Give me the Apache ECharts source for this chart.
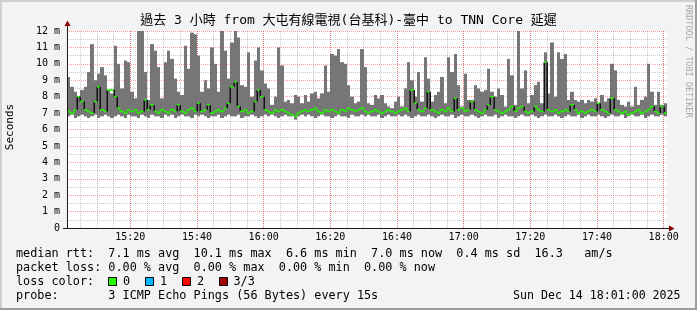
<!DOCTYPE html>
<html><head><meta charset="utf-8">
<script src="https://cdn.jsdelivr.net/npm/echarts@6/dist/echarts.min.js"></script>
<style>html,body{margin:0;padding:0;background:#f3f3f3}#c{width:697px;height:310px}</style>
</head><body><div id="c"></div>
<script>
// ---- data ----
const startHour = 15, startMinute = 1;   // window 15:01 .. 18:01
const stepCount = 180;                   // one smoke column per minute

// highest ping of each step (ms)
const maxRtt = [
  9.2, 8.6, 8.3, 8.0, 8.4, 8.6, 9.5, 11.2, 9.0, 9.4,
  9.8, 9.3, 8.4, 8.2, 11.1, 10.0, 8.5, 10.2, 10.1, 8.3,
  7.9, 12.0, 12.0, 9.5, 7.8, 11.2, 10.8, 9.8, 7.9, 10.1,
  10.8, 10.3, 9.1, 8.3, 8.1, 11.1, 9.7, 11.9, 11.8, 10.5,
  8.3, 9.0, 8.5, 11.0, 10.0, 8.3, 12.0, 10.8, 9.1, 11.3,
  12.0, 11.6, 8.7, 8.6, 10.7, 8.0, 10.2, 11.0, 9.6, 8.8,
  8.5, 7.5, 8.0, 11.0, 9.9, 7.7, 7.8, 7.6, 8.1, 8.0,
  7.6, 8.1, 7.7, 8.2, 8.3, 7.9, 8.2, 9.9, 8.3, 10.6,
  10.5, 10.9, 10.1, 10.0, 8.7, 8.0, 7.6, 7.7, 10.9, 9.8,
  7.6, 7.5, 8.1, 7.9, 8.1, 7.6, 7.4, 7.3, 7.7, 8.0,
  7.4, 8.5, 10.1, 9.0, 8.0, 9.5, 7.7, 10.4, 9.1, 7.7,
  8.1, 8.3, 9.2, 7.6, 10.4, 9.5, 10.6, 8.7, 7.4, 9.4,
  7.8, 7.8, 8.7, 8.5, 8.3, 8.4, 9.7, 8.3, 8.0, 8.5,
  8.1, 7.4, 10.3, 9.3, 7.5, 12.0, 8.5, 9.6, 7.6, 8.1,
  8.7, 8.9, 7.6, 10.7, 8.2, 11.3, 8.0, 10.7, 10.3, 10.6,
  7.8, 8.3, 7.8, 7.7, 7.8, 7.6, 7.8, 7.7, 7.9, 7.6,
  8.1, 7.7, 7.9, 10.0, 9.6, 7.8, 7.5, 7.4, 7.7, 7.4,
  8.6, 7.5, 7.8, 8.0, 10.0, 8.3, 7.5, 8.3, 7.5, 7.6
];
// lowest ping of each step (ms)
const minRtt = [
  6.8, 6.9, 6.7, 6.8, 6.9, 6.8, 6.7, 6.8, 6.9, 6.7,
  6.8, 6.9, 6.8, 6.7, 6.8, 6.9, 6.8, 6.7, 6.9, 6.8,
  6.8, 6.7, 6.9, 6.8, 6.7, 6.9, 6.8, 6.8, 6.7, 6.9,
  6.8, 6.9, 6.7, 6.8, 6.9, 6.8, 6.8, 6.7, 6.9, 6.8,
  6.9, 6.8, 6.7, 6.8, 6.8, 6.9, 6.7, 6.8, 6.9, 6.8,
  6.8, 6.9, 6.7, 6.8, 6.8, 6.9, 6.8, 6.7, 6.8, 6.9,
  6.8, 6.9, 6.8, 6.7, 6.8, 6.9, 6.8, 6.8, 6.6, 6.8,
  6.9, 6.8, 6.9, 6.8, 6.7, 6.8, 6.9, 6.8, 6.8, 6.7,
  6.8, 6.9, 6.8, 6.8, 6.7, 6.9, 6.8, 6.8, 6.9, 6.8,
  6.9, 6.8, 6.8, 6.9, 6.7, 6.8, 6.9, 6.8, 6.8, 6.9,
  6.8, 6.9, 6.8, 6.7, 6.8, 6.9, 6.8, 6.8, 6.9, 6.8,
  6.7, 6.8, 6.9, 6.8, 6.8, 6.9, 6.7, 6.8, 6.9, 6.8,
  6.8, 6.9, 6.8, 6.7, 6.8, 6.9, 6.8, 6.8, 6.9, 6.7,
  6.8, 6.9, 6.8, 6.8, 6.7, 6.8, 6.9, 6.8, 6.8, 6.9,
  6.8, 6.7, 6.8, 6.9, 6.8, 6.8, 6.9, 6.8, 6.7, 6.8,
  6.9, 6.8, 6.8, 6.9, 6.7, 6.8, 6.9, 6.8, 6.8, 6.9,
  6.8, 6.7, 6.8, 6.9, 6.8, 6.8, 6.9, 6.7, 6.8, 6.9,
  6.8, 6.8, 6.9, 6.7, 6.8, 6.9, 6.8, 6.8, 6.9, 6.8
];
// median rtt of each step (ms)
const medianRtt = [
  7.1, 7.0, 7.2, 8.0, 7.7, 7.2, 7.1, 7.0, 7.7, 8.6,
  7.2, 7.1, 8.4, 8.4, 8.0, 7.3, 7.1, 7.0, 7.2, 7.1,
  7.2, 7.0, 7.1, 7.8, 7.2, 7.5, 7.1, 7.0, 7.2, 7.1,
  7.0, 7.2, 7.1, 7.5, 7.1, 7.0, 7.2, 7.3, 7.1, 7.6,
  7.1, 7.2, 7.5, 7.0, 7.1, 7.2, 7.1, 7.3, 7.6, 8.6,
  8.9, 7.4, 7.1, 7.2, 7.0, 7.1, 7.7, 8.4, 8.0, 7.2,
  7.1, 7.0, 7.2, 7.1, 7.2, 7.1, 7.0, 6.9, 6.8, 7.0,
  7.1, 7.2, 7.1, 7.2, 7.3, 7.1, 7.0, 7.2, 7.1, 7.2,
  7.1, 7.0, 7.2, 7.1, 7.3, 7.2, 7.1, 7.2, 7.3, 7.1,
  7.0, 7.1, 7.2, 7.1, 7.0, 7.1, 7.2, 7.1, 7.0, 7.1,
  7.2, 7.3, 7.1, 8.4, 7.6, 7.2, 7.1, 7.3, 8.3, 7.2,
  7.1, 7.0, 7.2, 7.1, 7.3, 7.1, 7.9, 7.2, 7.3, 7.1,
  7.2, 7.7, 7.2, 7.1, 7.0, 7.2, 7.5, 8.0, 7.2, 7.1,
  7.0, 7.1, 7.2, 7.4, 7.1, 7.3, 7.4, 7.1, 7.0, 7.1,
  7.4, 7.2, 7.1, 10.1, 7.2, 7.1, 7.2, 7.0, 7.1, 7.2,
  7.1, 7.5, 7.2, 7.0, 7.1, 7.0, 7.1, 7.2, 7.1, 7.6,
  7.2, 7.1, 7.0, 7.9, 7.2, 7.1, 7.0, 7.1, 6.9, 7.0,
  7.1, 7.2, 7.0, 7.1, 7.2, 7.4, 7.1, 7.0, 7.4, 7.0
];
const yMax = 12;
const lossColors = ['#26ff00', '#00b8ff', '#ff0000', '#a00000'];
const lossLabels = ['0', '1', '2', '3/3'];
const titleText = '過去 3 小時 from 大屯有線電視(台基科)-臺中 to TNN Core 延遲';
const legendLines = [
  'median rtt:  7.1 ms avg  10.1 ms max  6.6 ms min  7.0 ms now  0.4 ms sd  16.3   am/s',
  'packet loss: 0.00 % avg  0.00 % max  0.00 % min  0.00 % now',
  'loss color:',
  'probe:       3 ICMP Echo Pings (56 Bytes) every 15s'
];
const dateText = 'Sun Dec 14 18:01:00 2025';

// ---- chart ----
const MONO = "'DejaVu Sans Mono', 'Noto Sans CJK TC', monospace";
const timeCats = [];
const minuteOfCat = [];
for (let i = 0; i <= stepCount; i++) {
  const tot = startHour * 60 + startMinute + i;
  minuteOfCat.push(tot % 60);
  timeCats.push(String(Math.floor(tot / 60)).padStart(2, '0') + ':' + String(tot % 60).padStart(2, '0'));
}
const smokeData = maxRtt.map((mx, i) => [i, minRtt[i], mx]);
const medData = medianRtt.map((m, i) => [i, m, i > 0 ? medianRtt[i - 1] : m]);

function renderSmoke(params, api) {
  const i = api.value(0);
  const a = api.coord([i, api.value(1)]);
  const b = api.coord([i + 1, api.value(2)]);
  const x0 = Math.round(a[0]), x1 = Math.round(b[0]);
  return { type: 'rect', shape: { x: x0, y: b[1], width: x1 - x0, height: a[1] - b[1] },
           style: { fill: '#767676' } };
}
function renderMedian(params, api) {
  const i = api.value(0);
  const a = api.coord([i, api.value(1)]);
  const b = api.coord([i + 1, api.value(1)]);
  const p = api.coord([i, api.value(2)]);
  const x0 = Math.round(a[0]), x1 = Math.round(b[0]);
  const children = [];
  const big = Math.abs(api.value(1) - api.value(2)) > 0.25;
  if (big) {
    children.push({ type: 'rect', shape: { x: x0 - 0.5, y: Math.min(a[1], p[1]), width: 1.5, height: Math.abs(a[1] - p[1]) },
                    style: { fill: '#111' } });
  } else {
    children.push({ type: 'line', shape: { x1: x0, y1: p[1], x2: x0, y2: a[1] },
                    style: { stroke: '#22ee00', lineWidth: 1.2 } });
  }
  children.push({ type: 'line', shape: { x1: x0, y1: a[1], x2: x1, y2: a[1] },
                  style: { stroke: '#22ee00', lineWidth: 1.6 } });
  return { type: 'group', children };
}

const graphics = [
  { type: 'rect', shape: { x: 0, y: 0, width: 697, height: 2 }, style: { fill: '#cfcfcf' }, z: 100 },
  { type: 'rect', shape: { x: 0, y: 0, width: 2, height: 310 }, style: { fill: '#cfcfcf' }, z: 100 },
  { type: 'rect', shape: { x: 0, y: 308, width: 697, height: 2 }, style: { fill: '#9e9e9e' }, z: 100 },
  { type: 'rect', shape: { x: 695, y: 0, width: 2, height: 310 }, style: { fill: '#9e9e9e' }, z: 100 },
  { type: 'line', shape: { x1: 67.5, y1: 229, x2: 67.5, y2: 24 }, style: { stroke: '#1a1a1a', lineWidth: 1 }, z: 100 },
  { type: 'polygon', shape: { points: [[64.5, 26], [70.5, 26], [67.5, 20.5]] }, style: { fill: '#8b0000' }, z: 100 },
  { type: 'line', shape: { x1: 63, y1: 228.5, x2: 671, y2: 228.5 }, style: { stroke: '#1a1a1a', lineWidth: 1 }, z: 100 },
  { type: 'polygon', shape: { points: [[669, 225.5], [669, 231.5], [674.5, 228.5]] }, style: { fill: '#8b0000' }, z: 100 },
  { type: 'text', x: 348.5, y: 21, z: 100, style: { text: titleText, font: '13px ' + MONO, fill: '#000', align: 'center', verticalAlign: 'middle' } },
  { type: 'text', x: 10, y: 127, rotation: Math.PI / 2, z: 100, style: { text: 'Seconds', font: '11px ' + MONO, fill: '#000', align: 'center', verticalAlign: 'middle' } },
  { type: 'text', x: 688, y: 5, rotation: -Math.PI / 2, z: 100, style: { text: 'RRDTOOL / TOBI OETIKER', font: '8.5px ' + MONO, fill: '#a8a8a8', align: 'left', verticalAlign: 'middle' } },
  { type: 'text', x: 513, y: 296, z: 100, style: { text: dateText, font: '11.6px ' + MONO, fill: '#000', align: 'left', verticalAlign: 'middle' } }
];
legendLines.forEach((ln, i) => {
  graphics.push({ type: 'text', x: 16, y: 254 + i * 14, z: 100,
    style: { text: ln, font: '11.8px ' + MONO, fill: '#000', align: 'left', verticalAlign: 'middle' } });
});
const boxX = [108.5, 145.5, 182.5, 219.5];
const labX = [123, 160, 197, 233.5];
lossColors.forEach((c, i) => {
  graphics.push({ type: 'rect', shape: { x: boxX[i], y: 277.5, width: 8, height: 8 }, z: 100,
    style: { fill: c, stroke: '#000', lineWidth: 1 } });
  graphics.push({ type: 'text', x: labX[i], y: 282, z: 100,
    style: { text: lossLabels[i], font: '11.8px ' + MONO, fill: '#000', align: 'left', verticalAlign: 'middle' } });
});

const chart = echarts.init(document.getElementById('c'), null, { renderer: 'canvas' });
const dotted = [1, 1];
chart.setOption({
  animation: false,
  backgroundColor: '#f3f3f3',
  grid: { left: 67, top: 31, width: 600, height: 197, show: true, backgroundColor: '#ffffff', borderWidth: 0 },
  xAxis: [
    { type: 'category', data: timeCats, boundaryGap: false, position: 'top',
      axisLine: { show: false }, axisTick: { show: false }, axisLabel: { show: false },
      splitLine: { show: true, interval: (idx) => minuteOfCat[idx] % 5 === 0,
        lineStyle: { color: 'rgba(128,128,128,0.45)', width: 1, type: dotted } } },
    { type: 'category', data: timeCats, boundaryGap: false, position: 'bottom',
      axisLine: { show: false }, axisTick: { show: false },
      axisLabel: { show: true, margin: 4, fontFamily: MONO, fontSize: 10, color: '#000',
        interval: (idx) => minuteOfCat[idx] % 20 === 0 },
      splitLine: { show: true, interval: (idx) => minuteOfCat[idx] % 20 === 0,
        lineStyle: { color: 'rgba(255,0,0,0.38)', width: 1, type: dotted } } }
  ],
  yAxis: {
    type: 'value', min: 0, max: yMax, interval: 1,
    axisLine: { show: false }, axisTick: { show: false },
    axisLabel: { margin: 7, fontFamily: MONO, fontSize: 10, color: '#000',
      formatter: v => (v === 0 ? '0' : v + ' m') },
    splitLine: { show: true, lineStyle: { color: 'rgba(255,0,0,0.38)', width: 1, type: dotted } },
    minorTick: { show: false, splitNumber: 2 },
    minorSplitLine: { show: true, lineStyle: { color: 'rgba(128,128,128,0.45)', width: 1, type: dotted } }
  },
  series: [
    { type: 'custom', name: 'smoke', xAxisIndex: 1, renderItem: renderSmoke, data: smokeData, z: 3, clip: true },
    { type: 'custom', name: 'median', xAxisIndex: 1, renderItem: renderMedian, data: medData, z: 4, clip: true }
  ],
  graphic: { elements: graphics }
});
</script></body></html>
